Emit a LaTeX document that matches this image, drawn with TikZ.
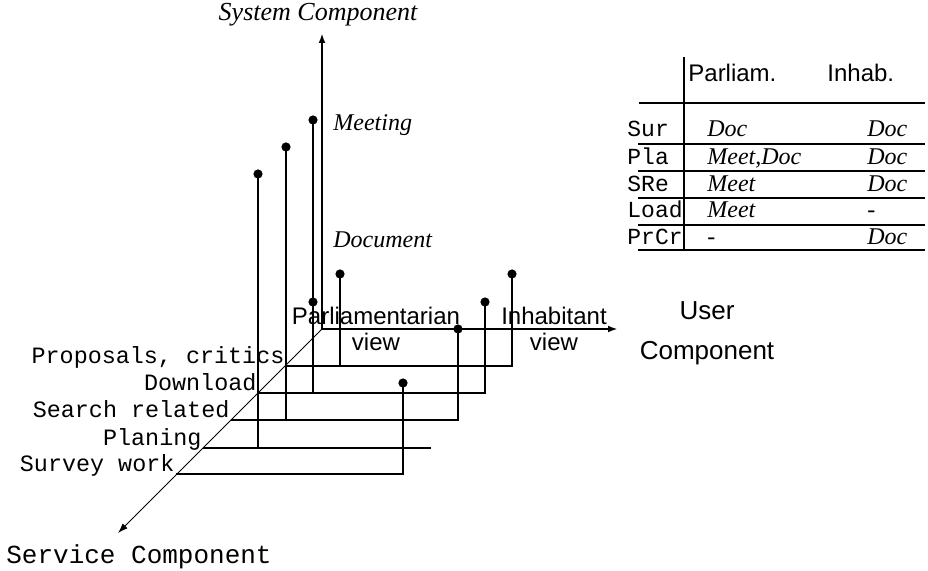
\documentclass[tikz,border=0pt]{standalone}
\usepackage{fontspec}
\setmainfont{Liberation Serif}
\setsansfont{Liberation Sans}
\setmonofont{Liberation Mono}
\usetikzlibrary{positioning,arrows.meta}
\tikzstyle{service cube}=[
    x=0.5pt, y=-0.5pt, >={Latex[length=5pt,width=3.4pt]},
    every node/.style={inner sep=0pt},
    axis/.style={line width=1.2pt},
    depth axis/.style={line width=0.45pt},
    bar/.style={line width=1.2pt},
    rowrule/.style={line width=0.9pt},
    valuedot/.style={circle, fill, minimum size=4.6pt},
    service/.style={font=\ttfamily\fontsize{11.7}{13}\selectfont, anchor=base east},
    comp/.style={font=\rmfamily\itshape\fontsize{12}{14}\selectfont, anchor=base west},
    view/.style={font=\sffamily\fontsize{12}{13}\selectfont, align=center},
    rowlab/.style={font=\ttfamily\fontsize{11.5}{13}\selectfont, anchor=base west},
    cell/.style={font=\rmfamily\itshape\fontsize{12}{14}\selectfont, anchor=base west},
]
\newcommand{\tabrow}[4]{%
    \node[rowlab] (#1-lab) at (627,#2) {#1};
    \node[cell] (#1-parl) at (707,#2) {#3};
    \node[cell] (#1-inh) at (867,#2) {#4};
}

\begin{document}
\begin{tikzpicture}[service cube]
    \useasboundingbox (0,0) rectangle (928,571);

    % the three components
    \coordinate (o) at (322,329);
    \coordinate (sysTip) at (322,33);
    \coordinate (userTip) at (618,329);
    \coordinate (svcTip) at (118,533);
    \draw[axis,->] (o) -- (sysTip);
    \draw[axis,->] (o) -- (userTip);
    \draw[depth axis,->] (o) -- (svcTip);
    \node[font=\rmfamily\itshape\fontsize{13}{15}\selectfont, anchor=base] (sys) at (318,21) {System Component};
    \node[view, font=\sffamily\fontsize{13}{20}\selectfont] (user) at (707,333) {User\\Component};
    \node[font=\ttfamily\fontsize{13}{15}\selectfont, anchor=base west] (svc) at (6,564) {Service Component};

    \node[comp] (meet) at (333,131) {Meeting};
    \node[comp] (docu) at (333,248) {Document};
    \node[view] (parl) at (376,329) {Parliamentarian\\view};
    \node[view] (inh) at (554,329) {Inhabitant\\view};

    % services
    \coordinate (sw) at (176,474); \coordinate (swEnd) at (403,474);
    \coordinate (pl) at (203,448); \coordinate (plEnd) at (431,448);
    \coordinate (sr) at (231,420); \coordinate (srEnd) at (458,420);
    \coordinate (dl) at (258,393); \coordinate (dlEnd) at (485,393);
    \coordinate (pr) at (286,366); \coordinate (prEnd) at (512,366);
    \node[service] (swLab) at ([xshift=-0.6pt,yshift=1.3pt]sw) {Survey work};
    \node[service] (plLab) at ([xshift=-0.6pt,yshift=1.3pt]pl) {Planing};
    \node[service] (srLab) at ([xshift=-0.6pt,yshift=1.3pt]sr) {Search related};
    \node[service] (dlLab) at ([xshift=-0.6pt,yshift=1.3pt]dl) {Download};
    \node[service] (prLab) at ([xshift=-0.6pt,yshift=1.3pt]pr) {Proposals, critics};

    \node[valuedot] (prP) at (340,274) {};
    \node[valuedot] (prI) at (512,274) {};
    \node[valuedot] (dlP) at (313,120) {};
    \node[valuedot] (dlPlow) at (313,302) {};
    \node[valuedot] (dlI) at (485,302) {};
    \node[valuedot] (srP) at (286,147) {};
    \node[valuedot] (srI) at (458,329) {};
    \node[valuedot] (plP) at (258,174) {};
    \node[valuedot] (swI) at (403,383) {};

    \draw[bar] (sw) -- (swEnd) -- (swI.center);
    \draw[bar] (pl) -- (plEnd);
    \draw[bar] (plP.center) -- (plP |- pl);
    \draw[bar] (sr) -- (srEnd) -- (srI.center);
    \draw[bar] (srP.center) -- (srP |- sr);
    \draw[bar] (dl) -- (dlEnd) -- (dlI.center);
    \draw[bar] (dlP.center) -- (dlP |- dl);
    \draw[bar] (pr) -- (prEnd) -- (prI.center);
    \draw[bar] (prP.center) -- (prP |- pr);

    % summary table
    \coordinate (tabTop) at (684,57); \coordinate (tabBot) at (684,250);
    \coordinate (ruleL) at (639,103); \coordinate (ruleR) at (925,103);
    \draw[bar] (tabTop) -- (tabBot);
    \draw[bar] (ruleL) -- (ruleR);
    \foreach \yy in {144,171,198,225,250}
        \draw[rowrule] (638,\yy) -- (925,\yy);
    \node[view, anchor=base west] (hParl) at (688,82) {Parliam.};
    \node[view, anchor=base west] (hInh) at (827,82) {Inhab.};
    \tabrow{Sur}{137}{Doc}{Doc}
    \tabrow{Pla}{165}{Meet,Doc}{Doc}
    \tabrow{SRe}{192}{Meet}{Doc}
    \tabrow{Load}{218}{Meet}{-}
    \tabrow{PrCr}{245}{-}{Doc}
\end{tikzpicture}
\end{document}
